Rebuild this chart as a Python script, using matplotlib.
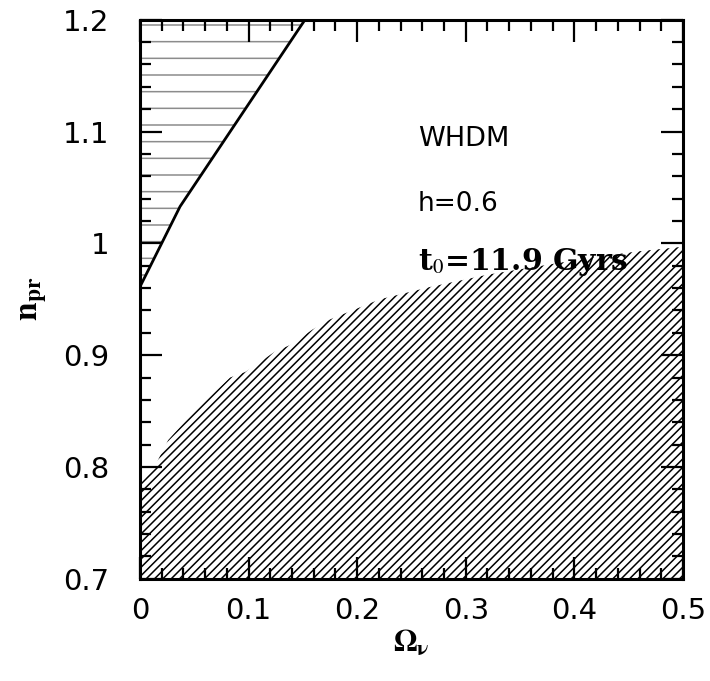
import numpy as np
import matplotlib.pyplot as plt
from matplotlib.ticker import MultipleLocator, FixedFormatter, FixedLocator


# excluded region (lower, diagonal hatch): upper boundary
omega_low = [0.0, 0.005, 0.016, 0.026, 0.05, 0.083, 0.097, 0.124, 0.138, 0.159,
             0.175, 0.221, 0.267, 0.32, 0.37, 0.42, 0.46, 0.5]
n_low = [0.785, 0.79, 0.805, 0.824, 0.85, 0.88, 0.885, 0.903, 0.909, 0.923,
         0.932, 0.95, 0.961, 0.972, 0.98, 0.988, 0.993, 0.997]

# excluded region (upper left, horizontal hatch): boundary line
omega_line = [0.0, 0.037, 0.152]
n_line = [0.961, 1.033, 1.2]

x_ticks = [0, 0.1, 0.2, 0.3, 0.4, 0.5]
x_labels = ['0', '0.1', '0.2', '0.3', '0.4', '0.5']
y_ticks = [0.7, 0.8, 0.9, 1.0, 1.1, 1.2]
y_labels = ['0.7', '0.8', '0.9', '1', '1.1', '1.2']


def main():

    plt.rcParams['mathtext.fontset'] = 'stix'
    plt.rcParams['hatch.linewidth'] = 1.1

    fig = plt.figure(figsize=(7.1, 6.81), dpi=100)
    ax = fig.add_axes([0.197, 0.150, 0.765, 0.821])

    ax.fill_between(omega_low, 0.7, n_low, facecolor='white', edgecolor='black',
                    hatch='////', linewidth=0)
    ax.fill_between(omega_line, n_line, 1.2, facecolor='white', edgecolor='0.55',
                    hatch='-', linewidth=0)
    ax.plot(omega_line, n_line, color='black', lw=2.0)

    ax.set_xlim(0, 0.5)
    ax.set_ylim(0.7, 1.2)

    ax.xaxis.set_major_locator(FixedLocator(x_ticks))
    ax.xaxis.set_major_formatter(FixedFormatter(x_labels))
    ax.yaxis.set_major_locator(FixedLocator(y_ticks))
    ax.yaxis.set_major_formatter(FixedFormatter(y_labels))
    ax.xaxis.set_minor_locator(MultipleLocator(0.02))
    ax.yaxis.set_minor_locator(MultipleLocator(0.02))

    ax.tick_params(which='both', direction='in', top=True, right=True, width=1.6)
    ax.tick_params(which='major', length=16, labelsize=21, pad=22)
    ax.tick_params(which='minor', length=8)
    ax.tick_params(axis='x', which='major', pad=13)
    for s in ax.spines.values():
        s.set_linewidth(2.2)

    ax.set_xlabel(r'$\mathbf{\Omega_\nu}$', fontsize=22, labelpad=2)
    ax.set_ylabel(r'$\mathbf{n_{pr}}$', fontsize=24, labelpad=10)

    ax.text(0.256, 1.093, 'WHDM', fontsize=19.5, va='center', ha='left')
    ax.text(0.256, 1.035, 'h=0.6', fontsize=19, va='center', ha='left')
    ax.text(0.256, 0.983, r't$_0$=11.9 Gyrs', family='DejaVu Serif',
            fontweight='bold', fontsize=21.5, va='center', ha='left')

    fig.savefig('out.png', dpi=100)


if __name__ == "__main__":
    main()
